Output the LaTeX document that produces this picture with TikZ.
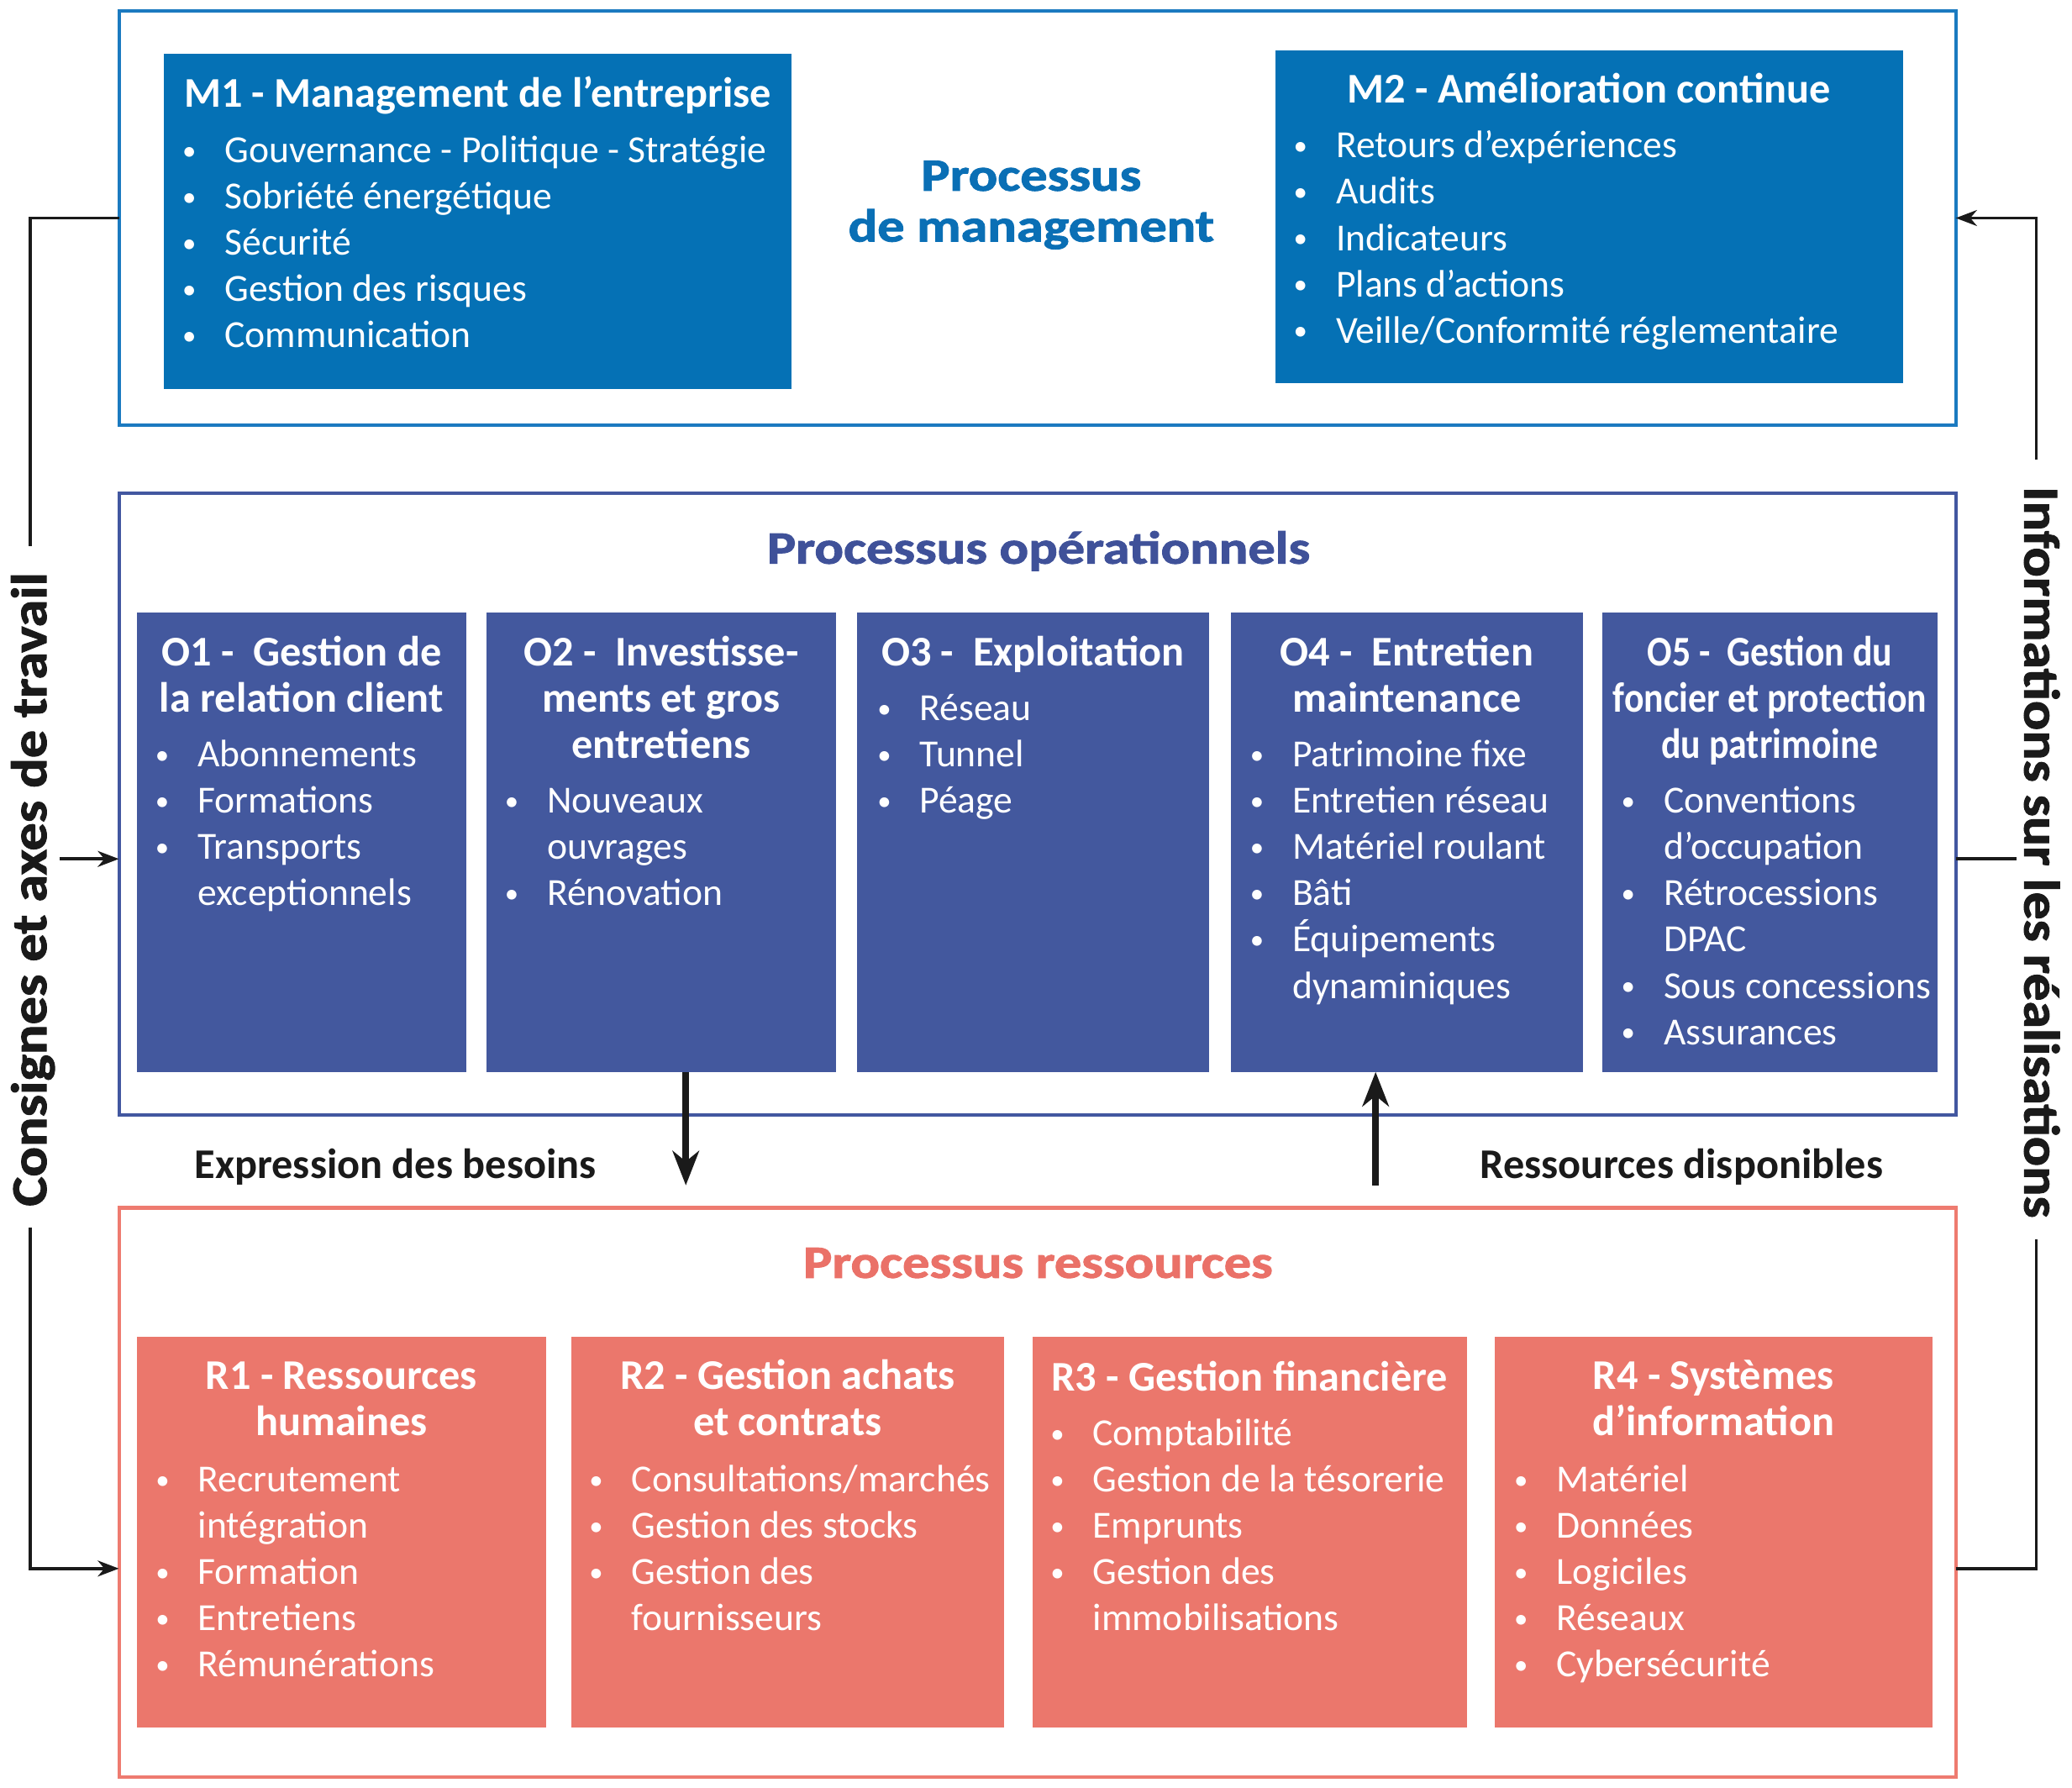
\documentclass[tikz,border=0pt]{standalone}
\usepackage{fontspec}
\usepackage{graphicx}
\setmainfont{Carlito}
\newfontfamily\heavyfont[BoldFeatures={FakeBold=1.6}]{Carlito}
\usetikzlibrary{arrows.meta,fit}
\definecolor{mfill}{HTML}{0571B5}
\definecolor{ofill}{HTML}{43589E}
\definecolor{rfill}{HTML}{EB776C}
\definecolor{mline}{HTML}{1B7AC0}
\definecolor{oline}{HTML}{4257A0}
\definecolor{rline}{HTML}{EE7B70}
\definecolor{mhead}{HTML}{0A6FB5}
\definecolor{ohead}{HTML}{3F5199}
\definecolor{rhead}{HTML}{EA7168}
\definecolor{ink}{HTML}{1A1A1A}
\newcommand{\ttl}[1]{{\fontsize{16}{17.5}\selectfont\bfseries\begin{tabular}[t]{@{}c@{}}#1\end{tabular}}}
\newcommand{\bul}{\raisebox{1pt}{\scalebox{0.72}{\textbullet}}}
\newcommand{\blist}[1]{{\fontsize{14.5}{17.5}\selectfont\begin{tabular}[t]{@{}p{16pt}@{}l@{}}#1\end{tabular}}}
\newcommand{\headtxt}[1]{\scalebox{1.17}[1]{\begin{tabular}[t]{@{}c@{}}#1\end{tabular}}}
\tikzset{
  every node/.style={inner sep=0pt, outer sep=0pt},
  frameM/.style={draw=mline, line width=1.3pt, inner sep=0pt},
  frameO/.style={draw=oline, line width=1.3pt, inner sep=0pt},
  frameR/.style={draw=rline, line width=1.3pt, inner sep=0pt},
  boxM/.style={fill=mfill, inner sep=0pt},
  boxO/.style={fill=ofill, inner sep=0pt},
  boxR/.style={fill=rfill, inner sep=0pt},
  wtxt/.style={text=white},
  head/.style={font=\heavyfont\fontsize{17.5}{19.25}\selectfont\bfseries},
  lab/.style={text=ink, font=\fontsize{16}{19}\selectfont\bfseries},
  side/.style={text=ink, font=\heavyfont\fontsize{19}{22}\selectfont\bfseries},
  conn/.style={draw=ink, line width=1.2pt},
  connarrow/.style={conn, -{Stealth[length=8pt,width=6pt,inset=2.5pt]}},
  bigarrow/.style={draw=ink, line width=2.6pt, -{Stealth[length=13pt,width=10pt,inset=4pt]}}
}
\begin{document}
\begin{tikzpicture}[x=0.5pt,y=-0.5pt]
\useasboundingbox (0,0) rectangle (1568,1353);
\fill[white] (0,0) rectangle (1568,1353);

% frames
\node[frameM, fit={(90,8) (1480,322)}] (M) {};
\node[frameO, fit={(90,373.5) (1480,843.5)}] (O) {};
\node[frameR, fit={(90,914) (1480,1344.6)}] (R) {};

% management boxes
\node[boxM, fit={(124,41) (599,294.5)}] (M1) {};
\node[boxM, fit={(965,38) (1440,290)}] (M2) {};
\node[wtxt, anchor=base] (M1t) at (361.5,81) {\ttl{M1 - Management de l’entreprise}};
\node[wtxt, anchor=base west] (M1l) at (138,123) {\blist{
\bul & Gouvernance - Politique - Stratégie\\
\bul & Sobriété énergétique\\
\bul & Sécurité\\
\bul & Gestion des risques\\
\bul & Communication}};
\node[wtxt, anchor=base] (M2t) at (1202.5,78) {\ttl{M2 - Amélioration continue}};
\node[wtxt, anchor=base west] (M2l) at (979,119.5) {\blist{
\bul & Retours d’expériences\\
\bul & Audits\\
\bul & Indicateurs\\
\bul & Plans d’actions\\
\bul & Veille/Conformité réglementaire}};
\node[head, text=mhead, anchor=base] (Mh) at (780.4,144.3) {\headtxt{Processus\\de management}};

% operational
\node[head, text=ohead, anchor=base] (Oh) at (786,426.5) {\headtxt{Processus opérationnels}};
\node[boxO, fit={(103.4,463.5) (353,811.2)}] (O1) {};
\node[boxO, fit={(368,463.5) (632.7,811.2)}] (O2) {};
\node[boxO, fit={(648.6,463.5) (914.7,811.2)}] (O3) {};
\node[boxO, fit={(931.5,463.5) (1197.8,811.2)}] (O4) {};
\node[boxO, fit={(1212.6,463.5) (1466.1,811.2)}] (O5) {};

\node[wtxt, anchor=base] (O1t) at (228.2,504) {\ttl{O1 - \ Gestion de\\la relation client}};
\node[wtxt, anchor=base west] (O1l) at (117.5,580.4) {\blist{
\bul & Abonnements\\
\bul & Formations\\
\bul & Transports\\
 & exceptionnels}};
\node[wtxt, anchor=base] (O2t) at (500.4,504) {\ttl{O2 - \ Investisse-\\ments et gros\\entretiens}};
\node[wtxt, anchor=base west] (O2l) at (382,615.4) {\blist{
\bul & Nouveaux\\
 & ouvrages\\
\bul & Rénovation}};
\node[wtxt, anchor=base] (O3t) at (781.6,504) {\ttl{O3 - \ Exploitation}};
\node[wtxt, anchor=base west] (O3l) at (664,545.3) {\blist{
\bul & Réseau\\
\bul & Tunnel\\
\bul & Péage}};
\node[wtxt, anchor=base] (O4t) at (1064.6,504) {\ttl{O4 - \ Entretien\\maintenance}};
\node[wtxt, anchor=base west] (O4l) at (946,580.4) {\blist{
\bul & Patrimoine fixe\\
\bul & Entretien réseau\\
\bul & Matériel roulant\\
\bul & Bâti\\
\bul & Équipements\\
 & dynaminiques}};
\node[wtxt, anchor=base] (O5t) at (1339.4,504) {\scalebox{0.87}[1]{\ttl{O5 - \ Gestion du\\foncier et protection\\du patrimoine}}};
\node[wtxt, anchor=base west] (O5l) at (1227,615.4) {\blist{
\bul & Conventions\\
 & d’occupation\\
\bul & Rétrocessions\\
 & DPAC\\
\bul & Sous concessions\\
\bul & Assurances}};

% resources
\node[head, text=rhead, anchor=base] (Rh) at (785.6,967) {\headtxt{Processus ressources}};
\node[boxR, fit={(103.4,1011.7) (413.3,1307.3)}] (R1) {};
\node[boxR, fit={(432.1,1011.7) (760,1307.3)}] (R2) {};
\node[boxR, fit={(781.5,1011.7) (1110,1307.3)}] (R3) {};
\node[boxR, fit={(1131,1011.7) (1462.3,1307.3)}] (R4) {};

\node[wtxt, anchor=base] (R1t) at (258.4,1051.5) {\ttl{R1 - Ressources\\humaines}};
\node[wtxt, anchor=base west] (R1l) at (117.8,1129) {\blist{
\bul & Recrutement\\
 & intégration\\
\bul & Formation\\
\bul & Entretiens\\
\bul & Rémunérations}};
\node[wtxt, anchor=base] (R2t) at (596,1051.5) {\ttl{R2 - Gestion achats\\et contrats}};
\node[wtxt, anchor=base west] (R2l) at (446,1129) {\blist{
\bul & Consultations/marchés\\
\bul & Gestion des stocks\\
\bul & Gestion des\\
 & fournisseurs}};
\node[wtxt, anchor=base] (R3t) at (945.7,1052.5) {\ttl{R3 - Gestion financière}};
\node[wtxt, anchor=base west] (R3l) at (795,1094) {\blist{
\bul & Comptabilité\\
\bul & Gestion de la tésorerie\\
\bul & Emprunts\\
\bul & Gestion des\\
 & immobilisations}};
\node[wtxt, anchor=base] (R4t) at (1296.6,1051.5) {\ttl{R4 - Systèmes\\d’information}};
\node[wtxt, anchor=base west] (R4l) at (1145.8,1129) {\blist{
\bul & Matériel\\
\bul & Données\\
\bul & Logiciles\\
\bul & Réseaux\\
\bul & Cybersécurité}};

% labels between frames
\node[lab, anchor=base west] (exp) at (147.3,891.5) {Expression des besoins};
\node[lab, anchor=base west] (res) at (1120,891.5) {Ressources disponibles};

% side texts
\node[side, rotate=90, anchor=base] (lt) at (35,673) {\scalebox{1.11}[1]{Consignes et axes de travail}};
\node[side, rotate=-90, anchor=base] (rt) at (1532,645) {\scalebox{1.1}[1]{Informations sur les réalisations}};

% connectors
\coordinate (ltopend) at (23,413);
\coordinate (lbotstart) at (23,929);
\coordinate (rowR) at (0,1187);
\coordinate (lmid) at (45,650);
\coordinate (rbotend) at (1541,938);
\coordinate (rtopstart) at (1541,348);
\coordinate (rmid) at (1526,650);
\draw[conn] (M.west) -| (ltopend);
\draw[connarrow] (lbotstart) |- (R.west |- rowR);
\draw[connarrow] (lmid) -- (O.west |- lmid);
\draw[conn] (R.east |- rowR) -| (rbotend);
\draw[connarrow] (rtopstart) |- (M.east);
\draw[conn] (O.east |- rmid) -- (rmid);

\coordinate (dnend) at (519,897);
\coordinate (upstart) at (1041,897);
\draw[bigarrow] (O2.south -| dnend) -- (dnend);
\draw[bigarrow] (upstart) -- (upstart |- O4.south);
\end{tikzpicture}
\end{document}
